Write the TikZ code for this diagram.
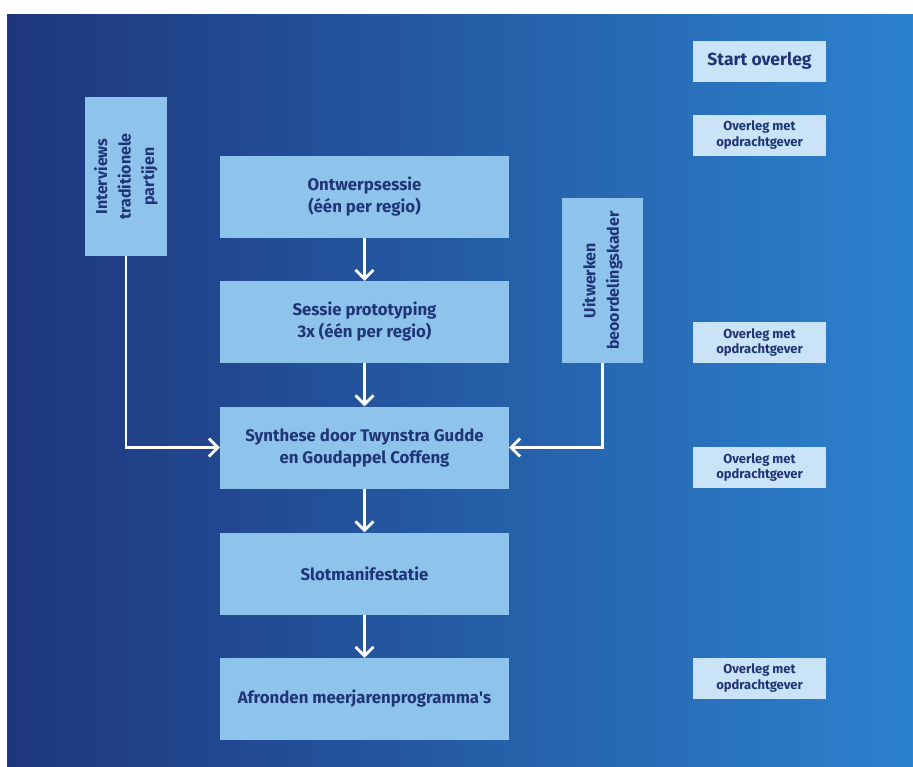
\documentclass[tikz,border=0pt]{standalone}
\usepackage{fontspec}
\setmainfont{Fira Sans}
\usetikzlibrary{arrows.meta}
\definecolor{bgLeft}{RGB}{30,54,124}
\definecolor{bgMid}{RGB}{32,88,168}
\definecolor{bgRight}{RGB}{44,130,206}
\definecolor{stepFill}{RGB}{142,196,236}
\definecolor{meetFill}{RGB}{202,227,246}
\definecolor{textNavy}{RGB}{32,52,118}
\begin{document}
\begin{tikzpicture}
[x=1pt,y=-1pt,%
  stepBox/.style={shape=rectangle,fill=stepFill,text=textNavy,align=center,inner sep=0pt,%
    font=\bfseries\fontsize{16.8}{22}\selectfont,minimum width=289pt,minimum height=82pt},%
  sideBox/.style={stepBox,rotate=90,font=\bfseries\fontsize{16}{23.5}\selectfont},%
  meetBox/.style={shape=rectangle,fill=meetFill,text=textNavy,align=center,inner sep=0pt,%
    font=\bfseries\fontsize{13}{15.5}\selectfont,minimum width=133pt,minimum height=41pt},%
  whiteArrow/.style={-{Straight Barb[length=9pt,width=18pt]},white,line width=2.8pt}]
%% background
\fill[white] (0,0) rectangle (913,766);
\shade[left color=bgLeft,middle color=bgMid,right color=bgRight] (7,14) rectangle (913,766);
%% main steps
\foreach \nodename/\y/\nodetext in {ontwerp/197/{Ontwerpsessie\\(één per regio)},
  proto/322/{Sessie prototyping\\3x (één per regio)},
  synthese/447.5/{Synthese door Twynstra Gudde\\en Goudappel Coffeng},
  slot/573.5/{Slotmanifestatie}, afronden/699/{Afronden meerjarenprogramma\textquotesingle s}}
{
  \node (\nodename) at (364.5,\y) [stepBox] {\nodetext};
}
%% side steps
\node (interviews) at (126,176.5) [sideBox,minimum width=159pt] {Interviews\\traditionele\\partijen};
\node (uitwerken) at (602.5,280.5) [sideBox,minimum width=165pt,minimum height=81pt] {Uitwerken\\beoordelingskader};
%% meetings
\node (start) at (759.5,61) [meetBox,font=\bfseries\fontsize{17.5}{20}\selectfont] {Start overleg};
\foreach \nodename/\y in {overlegA/135, overlegB/342.5, overlegC/467.5, overlegD/678}
{
  \node (\nodename) at (759.5,\y) [meetBox] {Overleg met\\opdrachtgever};
}
%% arrows
\path
\foreach \startnode/\endnode in {ontwerp/proto, proto/synthese, synthese/slot, slot/afronden}
{
  (\startnode) edge[whiteArrow] (\endnode)
};
\draw[whiteArrow] (interviews.west) |- (synthese.west);
\draw[whiteArrow] (uitwerken.west) |- (synthese.east);
\end{tikzpicture}
\end{document}
